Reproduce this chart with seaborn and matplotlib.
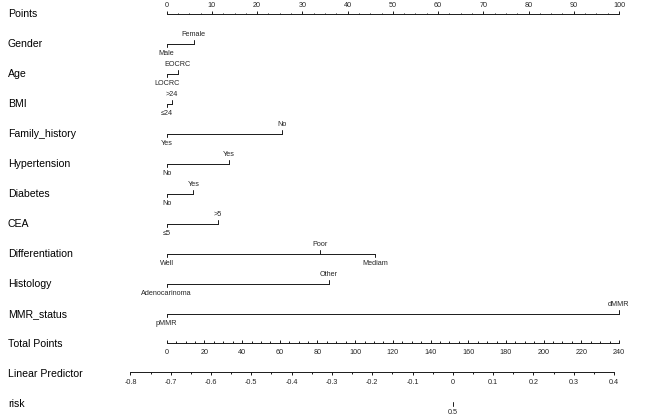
import numpy as np
import pandas as pd
import matplotlib
matplotlib.use("Agg")
import matplotlib.pyplot as plt
import matplotlib.transforms as mtransforms
import seaborn as sns

# predictor levels and their nomogram points (0-100 scale)
gender_levels = ["Male", "Female"]
gender_points = [0, 6.0]
age_levels = ["LOCRC", "EOCRC"]
age_points = [0, 2.4]
bmi_levels = ["≤24", ">24"]
bmi_points = [0, 1.2]
family_levels = ["Yes", "No"]
family_points = [0, 25.5]
hypertension_levels = ["No", "Yes"]
hypertension_points = [0, 13.8]
diabetes_levels = ["No", "Yes"]
diabetes_points = [0, 5.9]
cea_levels = ["≤5", ">5"]
cea_points = [0, 11.3]
diff_levels = ["Well", "Poor", "Mediam"]
diff_points = [0, 34.0, 46.0]
histology_levels = ["Adenocarinoma", "Other"]
histology_points = [0, 35.8]
mmr_levels = ["pMMR", "dMMR"]
mmr_points = [0, 100.0]

points_ticks = [0, 10, 20, 30, 40, 50, 60, 70, 80, 90, 100]
total_ticks = [0, 20, 40, 60, 80, 100, 120, 140, 160, 180, 200, 220, 240]
lp_ticks = [-0.8, -0.7, -0.6, -0.5, -0.4, -0.3, -0.2, -0.1, 0, 0.1, 0.2, 0.3, 0.4]
risk_ticks = [0.5]

# linear predictor = intercept + slope * total points
lp_intercept = -0.710
lp_slope = 0.004676
total_max = 240

predictors = [
    ("Gender", gender_levels, gender_points),
    ("Age", age_levels, age_points),
    ("BMI", bmi_levels, bmi_points),
    ("Family_history", family_levels, family_points),
    ("Hypertension", hypertension_levels, hypertension_points),
    ("Diabetes", diabetes_levels, diabetes_points),
    ("CEA", cea_levels, cea_points),
    ("Differentiation", diff_levels, diff_points),
    ("Histology", histology_levels, histology_points),
    ("MMR_status", mmr_levels, mmr_points),
]

sns.set_theme(style="white")
plt.rcParams["font.family"] = ["Liberation Sans", "DejaVu Sans"]

W, H = 669, 420
fig = plt.figure(figsize=(W / 100, H / 100), dpi=100)
ax = fig.add_axes([0, 0, 1, 1])
ax.set_axis_off()

# pixel layout helpers
x0_px, px_per_pt = 166.7, 4.523
row0_px, row_px = 14, 30
ax.set_xlim(-x0_px / px_per_pt, (W - x0_px) / px_per_pt)
ax.set_ylim((H - row0_px) / row_px, -row0_px / row_px)


def py(n):
    # pixel offset -> row units
    return n / row_px


def total_to_pts(t):
    return np.asarray(t, dtype=float) * 100.0 / total_max


def lp_to_pts(lp):
    return total_to_pts((np.asarray(lp, dtype=float) - lp_intercept) / lp_slope)


lc = "#1a1a1a"
lw = 0.7
lab_fs = 7.6
tick_fs = 5.2
label_tf = mtransforms.blended_transform_factory(ax.transAxes, ax.transData)
row_names = ["Points"] + [p[0] for p in predictors] + ["Total Points", "Linear Predictor", "risk"]
for i, name in enumerate(row_names):
    ax.text(8 / W, i, name, transform=label_tf, ha="left", va="center",
            fontsize=lab_fs, color="black")

# Points axis
r = 0
ax.plot([0, 100], [r, r], color=lc, lw=lw)
ax.vlines(points_ticks, r - py(3), r, color=lc, lw=lw)
ax.vlines(np.arange(0, 100.1, 2.5), r - py(1.5), r, color=lc, lw=lw)
for t in points_ticks:
    ax.text(t, r - py(9), f"{t}", ha="center", va="center", fontsize=tick_fs)

# predictor rows
rows = []
for i, (name, levels, pts) in enumerate(predictors, start=1):
    for lev, p in zip(levels, pts):
        rows.append({"variable": name, "level": lev, "points": p, "row": i})
df = pd.DataFrame(rows)
sns.lineplot(data=df, x="points", y="row", units="variable", estimator=None,
             sort=True, color=lc, lw=lw, legend=False, ax=ax)

for name, g in df.groupby("variable", sort=False):
    g = g.sort_values("points")
    for k, (_, rr) in enumerate(g.iterrows()):
        up = k % 2 == 1
        y = rr["row"]
        if up:
            ax.plot([rr["points"]] * 2, [y, y - py(4)], color=lc, lw=lw)
            ax.text(rr["points"], y - py(9.5), rr["level"], ha="center", va="center",
                    fontsize=tick_fs)
        else:
            ax.plot([rr["points"]] * 2, [y, y + py(3)], color=lc, lw=lw)
            ax.text(rr["points"], y + py(9.5), rr["level"], ha="center", va="center",
                    fontsize=tick_fs)

# Total points axis
r = 11 - py(1.3)
ax.plot(total_to_pts([0, total_max]), [r, r], color=lc, lw=lw)
ax.vlines(total_to_pts(total_ticks), r - py(3), r, color=lc, lw=lw)
ax.vlines(total_to_pts(np.arange(0, total_max + 0.1, 5)), r - py(1.5), r, color=lc, lw=lw)
for t in total_ticks:
    ax.text(total_to_pts(t), r + py(10), f"{t}", ha="center", va="center", fontsize=tick_fs)

# Linear predictor axis
r = 12 - py(1.7)
ax.plot(lp_to_pts([lp_ticks[0], lp_ticks[-1]]), [r, r], color=lc, lw=lw)
ax.vlines(lp_to_pts(lp_ticks), r, r + py(3), color=lc, lw=lw)
ax.vlines(lp_to_pts(np.arange(-0.8, 0.41, 0.05)), r, r + py(1.5), color=lc, lw=lw)
for t in lp_ticks:
    s = "0" if abs(t) < 1e-9 else f"{t:g}"
    ax.text(lp_to_pts(t), r + py(10.5), s, ha="center", va="center", fontsize=tick_fs)

# risk axis
r = 13
for p in risk_ticks:
    x = lp_to_pts(np.log(p / (1 - p)))
    ax.plot([x, x], [r - py(2), r + py(1.5)], color=lc, lw=lw)
    ax.text(x, r + py(8), f"{p:g}", ha="center", va="center", fontsize=tick_fs)

fig.savefig("out.png", dpi=100, facecolor="white")
